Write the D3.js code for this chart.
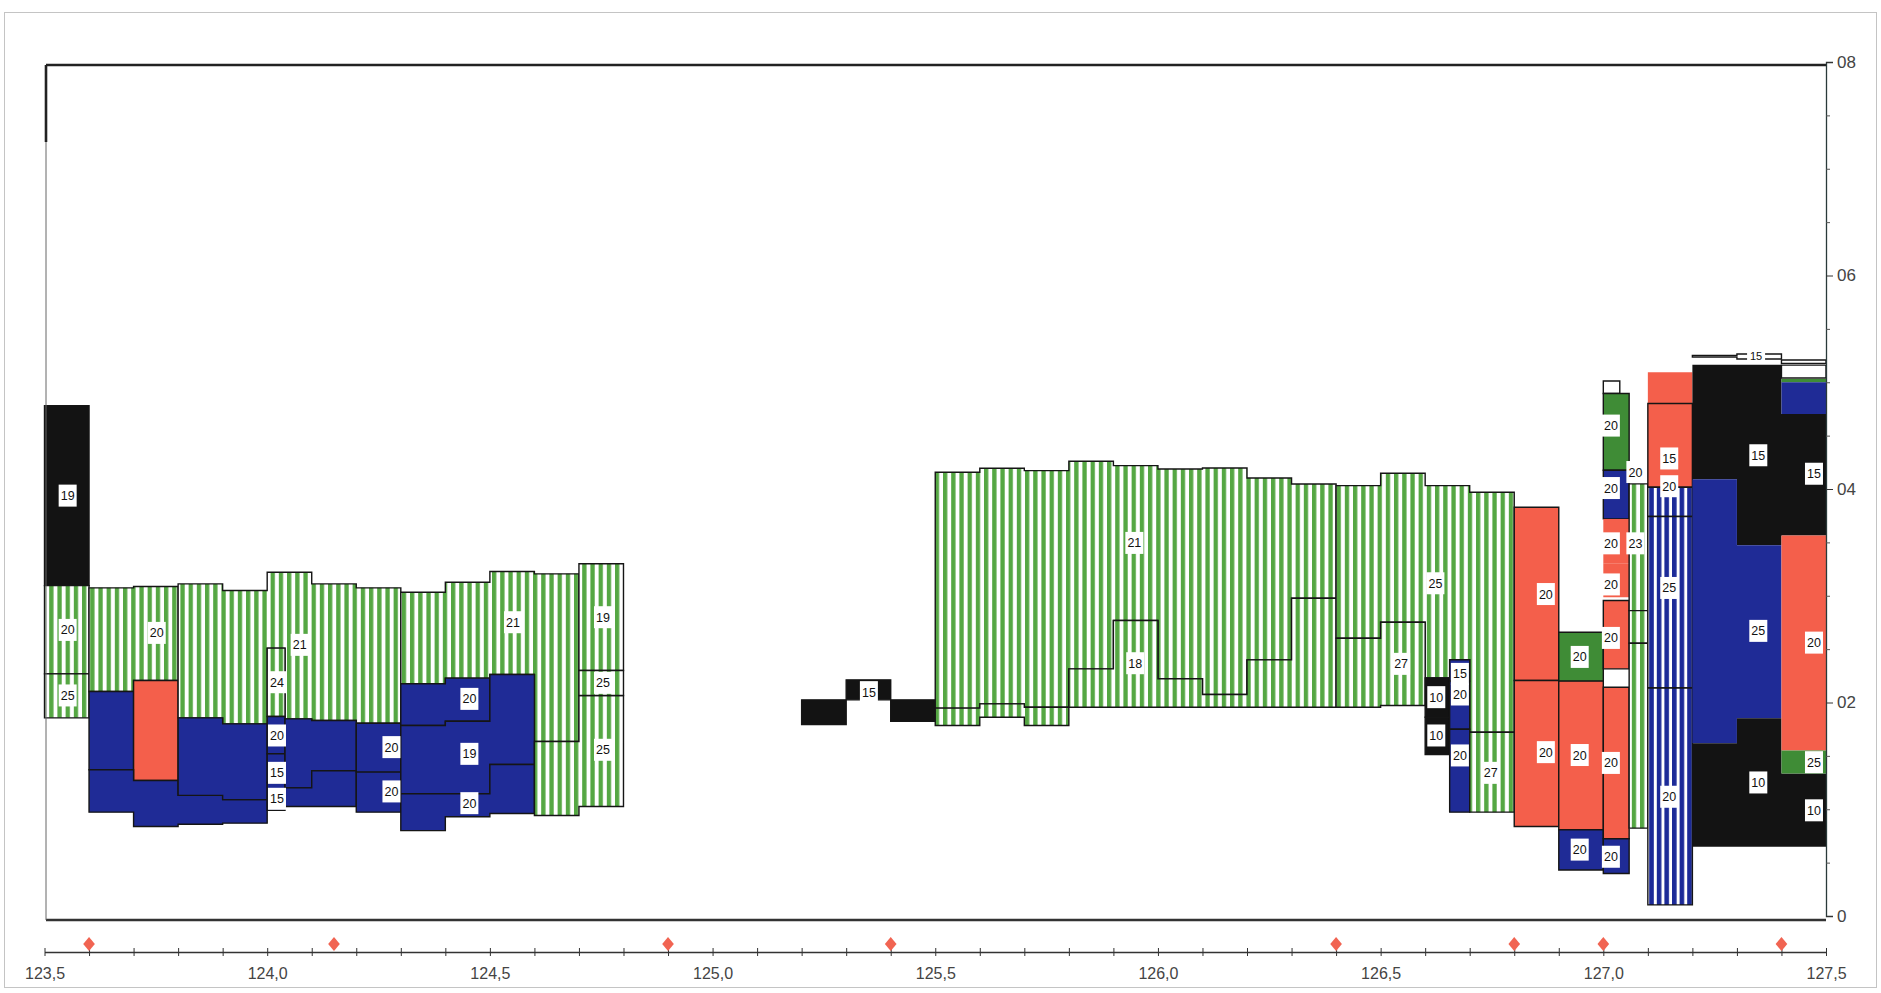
<!DOCTYPE html>
<html><head><meta charset="utf-8">
<script src="https://cdn.jsdelivr.net/npm/d3@7"></script>
<style>
body{margin:0;background:#fff;}
svg{display:block;}
text{font-family:"Liberation Sans",Arial,sans-serif;}
</style>
</head><body>
<svg id="c" width="1881" height="993"></svg>
<script>
// ---------- DATA ----------
const xDomain = [123.5, 127.5];
const yDomain = [0, 8];
const yMajorTicks = [0, 2, 4, 6, 8];
const yMinorTicks = [0.5, 1, 1.5, 2.5, 3, 3.5, 4.5, 5, 5.5, 6.5, 7, 7.5];
const xTicks = d3.range(0, 41).map(i => +(123.5 + i * 0.1).toFixed(1));
const markerPositions = [123.6, 124.15, 124.9, 125.4, 126.4, 126.8, 127.0, 127.4];

// layer kinds: gs = green striped, bs = blue striped, b = blue, r = red, k = black, g = green, w = white
// each column: [x0, x1, bottom, top]
const leftLayers = [
  {k:'k',  c:[[123.5,123.6,3.095,4.78]]},
  {k:'gs', c:[[123.5,123.6,2.268,3.095]]},
  {k:'gs', c:[[123.5,123.6,1.856,2.268]]},
  {k:'gs', c:[[123.6,123.7,2.103,3.074],[123.7,123.8,2.206,3.086]]},
  {k:'b',  c:[[123.6,123.7,1.37,2.103]]},
  {k:'r',  c:[[123.7,123.8,1.27,2.206]]},
  {k:'b',  c:[[123.6,123.7,0.973,1.37],[123.7,123.8,0.839,1.27],[123.8,123.9,0.86,1.13],[123.9,124.0,0.87,1.09]]},
  {k:'gs', c:[[123.8,123.9,1.856,3.111],[123.9,124.0,1.80,3.049],[124.0,124.04,2.509,3.22],[124.04,124.1,1.847,3.22],[124.1,124.2,1.832,3.111],[124.2,124.3,1.806,3.074]]},
  {k:'b',  c:[[123.8,123.9,1.13,1.856],[123.9,124.0,1.09,1.80]]},
  {k:'gs', c:[[124.0,124.04,1.869,2.509]]},
  {k:'b',  c:[[124.0,124.04,1.52,1.869]]},
  {k:'b',  c:[[124.0,124.04,1.25,1.52]]},
  {k:'b',  c:[[124.0,124.04,0.99,1.25]]},
  {k:'b',  c:[[124.04,124.1,1.2,1.847],[124.1,124.2,1.36,1.832]]},
  {k:'b',  c:[[124.04,124.1,1.026,1.2],[124.1,124.2,1.026,1.36]]},
  {k:'b',  c:[[124.2,124.3,1.348,1.806]]},
  {k:'b',  c:[[124.2,124.3,0.973,1.348]]},
  {k:'gs', c:[[124.3,124.4,2.175,3.033],[124.4,124.5,2.228,3.127],[124.5,124.6,2.262,3.227],[124.6,124.7,1.635,3.205]]},
  {k:'b',  c:[[124.3,124.4,1.785,2.175],[124.4,124.5,1.825,2.228]]},
  {k:'b',  c:[[124.3,124.4,1.145,1.785],[124.4,124.5,1.145,1.825],[124.5,124.6,1.419,2.262]]},
  {k:'b',  c:[[124.3,124.4,0.80,1.145],[124.4,124.5,0.93,1.145],[124.5,124.6,0.96,1.419]]},
  {k:'gs', c:[[124.6,124.7,0.942,1.635],[124.7,124.8,1.026,2.066]]},
  {k:'gs', c:[[124.7,124.8,2.30,3.30]]},
  {k:'gs', c:[[124.7,124.8,2.066,2.30]]}
];

const midCols = [125.5,125.6,125.7,125.8,125.9,126.0,126.1,126.2,126.3,126.4];
const mid21Top    = [4.157,4.194,4.172,4.26,4.219,4.188,4.197,4.103,4.047];
const mid21Bottom = [1.947,1.987,1.956,2.315,2.768,2.222,2.075,2.399,2.977];
const mid18Bottom = [1.784,1.862,1.784,1.956,1.956,1.956,1.956,1.956,1.956];

const midLayers = [
  {k:'k',  c:[[125.2,125.3,1.794,2.025]]},
  {k:'k',  c:[[125.3,125.4,2.025,2.212]]},
  {k:'k',  c:[[125.4,125.5,1.825,2.025]]},
  {k:'gs', c: mid21Top.map((t,i)=>[midCols[i],midCols[i+1],mid21Bottom[i],t])},
  {k:'gs', c: mid21Bottom.map((t,i)=>[midCols[i],midCols[i+1],mid18Bottom[i],t])},
  {k:'gs', c:[[126.4,126.5,2.602,4.032],[126.5,126.6,2.752,4.147],[126.6,126.655,2.231,4.032],[126.655,126.7,2.4,4.032],[126.7,126.8,1.722,3.969]]},
  {k:'gs', c:[[126.4,126.5,1.956,2.602],[126.5,126.6,1.972,2.752]]},
  {k:'k',  c:[[126.6,126.655,1.862,2.231]]},
  {k:'k',  c:[[126.6,126.655,1.513,1.862]]},
  {k:'b',  c:[[126.655,126.7,2.2,2.4]]},
  {k:'b',  c:[[126.655,126.7,1.75,2.2]]},
  {k:'b',  c:[[126.655,126.7,0.973,1.75]]},
  {k:'gs', c:[[126.7,126.8,0.973,1.722]]}
];

const rightLayers = [
  {k:'r',  c:[[126.8,126.9,2.206,3.829]]},
  {k:'r',  c:[[126.8,126.9,0.839,2.206]]},
  {k:'g',  c:[[126.9,127.0,2.2,2.658]]},
  {k:'r',  c:[[126.9,127.0,0.808,2.2]]},
  {k:'b',  c:[[126.9,127.0,0.431,0.808]]},
  {k:'w',  c:[[127.0,127.037,4.895,5.012]]},
  {k:'g',  c:[[127.0,127.058,4.176,4.895]]},
  {k:'b',  c:[[127.0,127.058,3.72,4.176]]},
  {k:'r',  c:[[127.0,127.058,3.3,3.72]], open:true},
  {k:'r',  c:[[127.0,127.058,2.986,3.3]], open:true},
  {k:'r',  c:[[127.0,127.058,2.315,2.956]]},
  {k:'r',  c:[[127.0,127.058,0.724,2.143]]},
  {k:'b',  c:[[127.0,127.058,0.398,0.724]]},
  {k:'gs', c:[[127.058,127.1,2.861,4.048]]},
  {k:'gs', c:[[127.058,127.1,2.555,2.861]]},
  {k:'gs', c:[[127.058,127.1,0.823,2.555]]},
  {k:'r',  c:[[127.1,127.2,4.801,5.093]], open:true},
  {k:'r',  c:[[127.1,127.2,4.016,4.801]]},
  {k:'bs', c:[[127.1,127.2,3.742,4.016]]},
  {k:'bs', c:[[127.1,127.2,2.136,3.742]]},
  {k:'bs', c:[[127.1,127.2,0.104,2.136]]},
  {k:'k',  c:[[127.2,127.3,4.092,5.165],[127.3,127.4,3.474,5.165],[127.4,127.5,3.564,4.703]], open:true},
  {k:'b',  c:[[127.2,127.3,1.618,4.092],[127.3,127.4,1.852,3.474]], open:true},
  {k:'k',  c:[[127.2,127.3,0.649,1.618],[127.3,127.4,0.649,1.852],[127.4,127.5,0.649,1.334]], open:true},
  {k:'w',  c:[[127.4,127.5,5.04,5.16]]},
  {k:'g',  c:[[127.4,127.5,4.999,5.031]], open:true},
  {k:'b',  c:[[127.4,127.5,4.703,4.999]], open:true},
  {k:'r',  c:[[127.4,127.5,1.551,3.564]], open:true},
  {k:'g',  c:[[127.4,127.5,1.334,1.551]], open:true},
  {k:'w',  c:[[127.2,127.3,5.235,5.25],[127.3,127.4,5.218,5.265]]},
  {k:'w',  c:[[127.4,127.5,5.177,5.209]]}
];

// [x, y, label]
const labels = [
  [123.552,3.938,'19'],[123.552,2.68,'20'],[123.552,2.066,'25'],[123.752,2.652,'20'],
  [124.073,2.54,'21'],[124.022,2.19,'24'],[124.022,1.691,'20'],[124.022,1.341,'15'],[124.022,1.098,'15'],
  [124.279,1.582,'20'],[124.279,1.167,'20'],[124.454,2.034,'20'],[124.454,1.519,'19'],[124.454,1.057,'20'],
  [124.552,2.752,'21'],[124.754,2.799,'19'],[124.754,2.184,'25'],[124.754,1.557,'25'],
  [125.351,2.097,'15'],[125.947,3.495,'21'],[125.949,2.368,'18'],[126.623,3.117,'25'],[126.546,2.362,'27'],
  [126.625,2.05,'10'],[126.625,1.691,'10'],[126.678,2.268,'15'],[126.678,2.075,'20'],[126.678,1.504,'20'],
  [126.747,1.341,'27'],
  [126.871,3.016,'20'],[126.871,1.535,'20'],[126.947,2.427,'20'],[126.947,1.508,'20'],[126.947,0.622,'20'],
  [127.017,4.594,'20'],[127.017,4.009,'20'],[127.017,3.491,'20'],[127.017,3.106,'20'],[127.017,2.605,'20'],
  [127.017,1.434,'20'],[127.017,0.555,'20'],[127.072,4.159,'20'],[127.072,3.491,'23'],
  [127.148,4.286,'15'],[127.148,4.026,'20'],[127.148,3.073,'25'],[127.148,1.117,'20'],
  [127.348,4.316,'15'],[127.348,2.671,'25'],[127.348,1.251,'10'],
  [127.473,4.143,'15'],[127.473,2.561,'20'],[127.473,1.441,'25'],[127.473,0.99,'10']
];
const smallLabels = [[127.343,5.243,'15']];

// ---------- DRAW ----------
const svg = d3.select('#c');
const x = d3.scaleLinear().domain(xDomain).range([44.5, 1826]);
const y = d3.scaleLinear().domain(yDomain).range([916, 62]);

const colors = {b:'#1f2b96', r:'#f45f4b', k:'#131313', g:'#3f8c36', w:'#ffffff', green:'#55a743', blue:'#1c2a98'};

const defs = svg.append('defs');
const pg = defs.append('pattern').attr('id','gs').attr('patternUnits','userSpaceOnUse')
  .attr('width',8.2).attr('height',10);
pg.append('rect').attr('width',8.2).attr('height',10).attr('fill','#fff');
pg.append('rect').attr('x',0).attr('width',4.3).attr('height',10).attr('fill',colors.green);
const pb = defs.append('pattern').attr('id','bs').attr('patternUnits','userSpaceOnUse')
  .attr('width',7.6).attr('height',10);
pb.append('rect').attr('width',7.6).attr('height',10).attr('fill','#fff');
pb.append('rect').attr('x',0).attr('width',4.6).attr('height',10).attr('fill',colors.blue);

function fillOf(k){ return k==='gs' ? 'url(#gs)' : k==='bs' ? 'url(#bs)' : colors[k]; }

// outer border
svg.append('rect').attr('x',4.5).attr('y',12.5).attr('width',1872).attr('height',975)
  .attr('fill','none').attr('stroke','#c4c4c4').attr('stroke-width',1);

const area = d3.area()
  .x(d => x(d.x)).y0(d => y(d.y0)).y1(d => y(d.y1))
  .curve(d3.curveStepAfter);

function pts(cols){
  const p = cols.map(c => ({x:c[0], y0:c[2], y1:c[3]}));
  const l = cols[cols.length-1];
  p.push({x:l[1], y0:l[2], y1:l[3]});
  return p;
}

const allLayers = leftLayers.concat(midLayers, rightLayers);
svg.append('g').selectAll('path').data(allLayers).join('path')
  .attr('d', d => area(pts(d.c)) + 'Z')
  .attr('fill', d => fillOf(d.k))
  .attr('stroke', d => d.open ? 'none' : '#151515')
  .attr('stroke-width', 1.4)
  .attr('stroke-linejoin','miter');

// labels
const lg = svg.append('g').selectAll('g').data(labels).join('g')
  .attr('transform', d => `translate(${x(d[0])},${y(d[1])})`);
lg.append('rect').attr('x',-9).attr('y',-11).attr('width',18).attr('height',22).attr('fill','#fff');
lg.append('text').attr('text-anchor','middle').attr('dy','0.36em')
  .attr('font-size',12.5).attr('fill','#111').text(d => d[2]);

const sg = svg.append('g').selectAll('g').data(smallLabels).join('g')
  .attr('transform', d => `translate(${x(d[0])},${y(d[1])})`);
sg.append('rect').attr('x',-9).attr('y',-6).attr('width',18).attr('height',12).attr('fill','#fff');
sg.append('text').attr('text-anchor','middle').attr('dy','0.36em')
  .attr('font-size',11).attr('fill','#111').text(d => d[2]);

// plot frame
const fx0 = x(xDomain[0]) + 1.5, fx1 = x(xDomain[1]);
svg.append('line').attr('x1',fx0).attr('x2',fx1).attr('y1',y(8)+3).attr('y2',y(8)+3)
  .attr('stroke','#222').attr('stroke-width',2.6);
svg.append('line').attr('x1',fx0).attr('x2',fx1).attr('y1',y(0)+4).attr('y2',y(0)+4)
  .attr('stroke','#333').attr('stroke-width',2.6);
svg.append('line').attr('x1',fx0).attr('x2',fx0).attr('y1',y(8)+3).attr('y2',y(0)+4)
  .attr('stroke','#666').attr('stroke-width',1);
svg.append('line').attr('x1',fx0).attr('x2',fx0).attr('y1',y(8)+3).attr('y2',142)
  .attr('stroke','#222').attr('stroke-width',2.6);

// right y axis
const yAxisG = svg.append('g').attr('transform',`translate(${fx1},0)`)
  .call(d3.axisRight(y).tickValues(yMajorTicks).tickSize(7).tickPadding(4)
    .tickFormat(d => d === 0 ? '0' : '0' + d));
yAxisG.select('.domain').attr('stroke','#2a3a3a').attr('stroke-width',1.3);
yAxisG.selectAll('.tick line').attr('stroke','#333');
yAxisG.selectAll('.tick text').attr('font-size',17).attr('fill','#444')
  .attr('font-family','"Liberation Sans",Arial,sans-serif');
const yMinorG = svg.append('g').attr('transform',`translate(${fx1},0)`)
  .call(d3.axisRight(y).tickValues(yMinorTicks).tickSize(4).tickFormat(''));
yMinorG.select('.domain').remove();
yMinorG.selectAll('.tick line').attr('stroke','#555');

// bottom x axis
const axisY = 952;
const xAxisG = svg.append('g').attr('transform',`translate(0,${axisY})`)
  .call(d3.axisBottom(x).tickValues(xTicks).tickSize(4).tickSizeOuter(0)
    .tickFormat(d => (Math.round(d*10) % 5 === 0) ? d3.format('.1f')(d).replace('.', ',') : ''));
xAxisG.select('.domain').attr('stroke','#333').attr('stroke-width',1.6);
xAxisG.selectAll('.tick line').attr('y1',-4).attr('y2',4).attr('stroke','#333');
xAxisG.selectAll('.tick text').attr('y',16).attr('font-size',16).attr('fill','#444')
  .attr('font-family','"Liberation Sans",Arial,sans-serif');

// red diamond markers
const diamond = d3.symbol().type(d3.symbolDiamond).size(56);
svg.append('g').selectAll('path').data(markerPositions).join('path')
  .attr('d', diamond)
  .attr('transform', d => `translate(${x(d)},${axisY-8}) scale(1.45,1.0)`)
  .attr('fill','#f16452');
</script>
</body></html>
